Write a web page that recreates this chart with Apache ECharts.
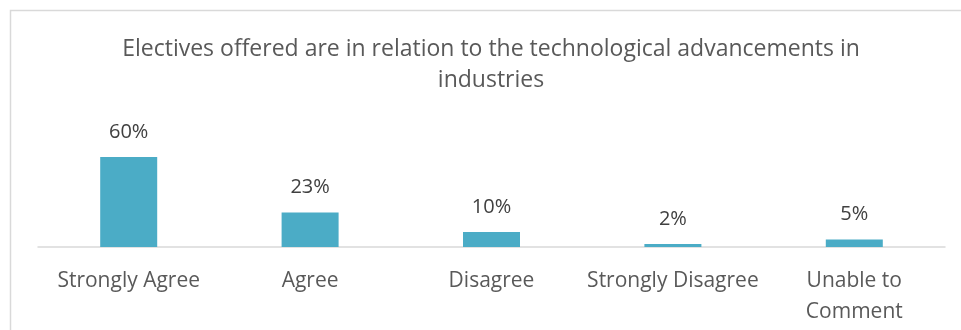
<!DOCTYPE html>
<html><head><meta charset="utf-8">
<script src="https://cdn.jsdelivr.net/npm/echarts@6/dist/echarts.min.js"></script>
<style>html,body{margin:0;padding:0;background:#fff}#c{width:961px;height:330px}</style>
</head><body><div id="c"></div>
<script>
var titleText = 'Electives offered are in relation to the technological advancements in\nindustries';
var categories = ['Strongly Agree', 'Agree', 'Disagree', 'Strongly Disagree', 'Unable to\nComment'];
var values = [60, 23, 10, 2, 5];

var chart = echarts.init(document.getElementById('c'), null, {renderer: 'canvas'});
chart.setOption({
  backgroundColor: '#fff',
  animation: false,
  graphic: [{
    type: 'rect', left: 8, top: 8, silent: true,
    shape: {x: 0, y: 0, width: 1000, height: 400},
    style: {fill: 'none', stroke: '#d9d9d9', lineWidth: 1.5}
  }],
  title: {
    text: titleText, left: 486, top: 29, textAlign: 'center',
    textStyle: {fontFamily: 'Open Sans', fontSize: 23, fontWeight: 'normal', color: '#595959', lineHeight: 31}
  },
  grid: {left: 38, right: 16, top: 142, bottom: 83, containLabel: false},
  xAxis: {
    type: 'category', data: categories,
    axisLine: {lineStyle: {color: '#d9d9d9', width: 1.5}},
    axisTick: {show: false},
    axisLabel: {fontFamily: 'Open Sans', fontSize: 21, color: '#595959', margin: 19, lineHeight: 31, interval: 0}
  },
  yAxis: {type: 'value', min: 0, max: 70, show: false, splitLine: {show: false}},
  series: [{
    type: 'bar', data: values, barWidth: 57,
    itemStyle: {color: '#4BACC6'},
    label: {show: true, position: 'top', distance: 15, formatter: '{c}%', fontFamily: 'Open Sans', fontSize: 20, color: '#404040'}
  }]
});
</script></body></html>
